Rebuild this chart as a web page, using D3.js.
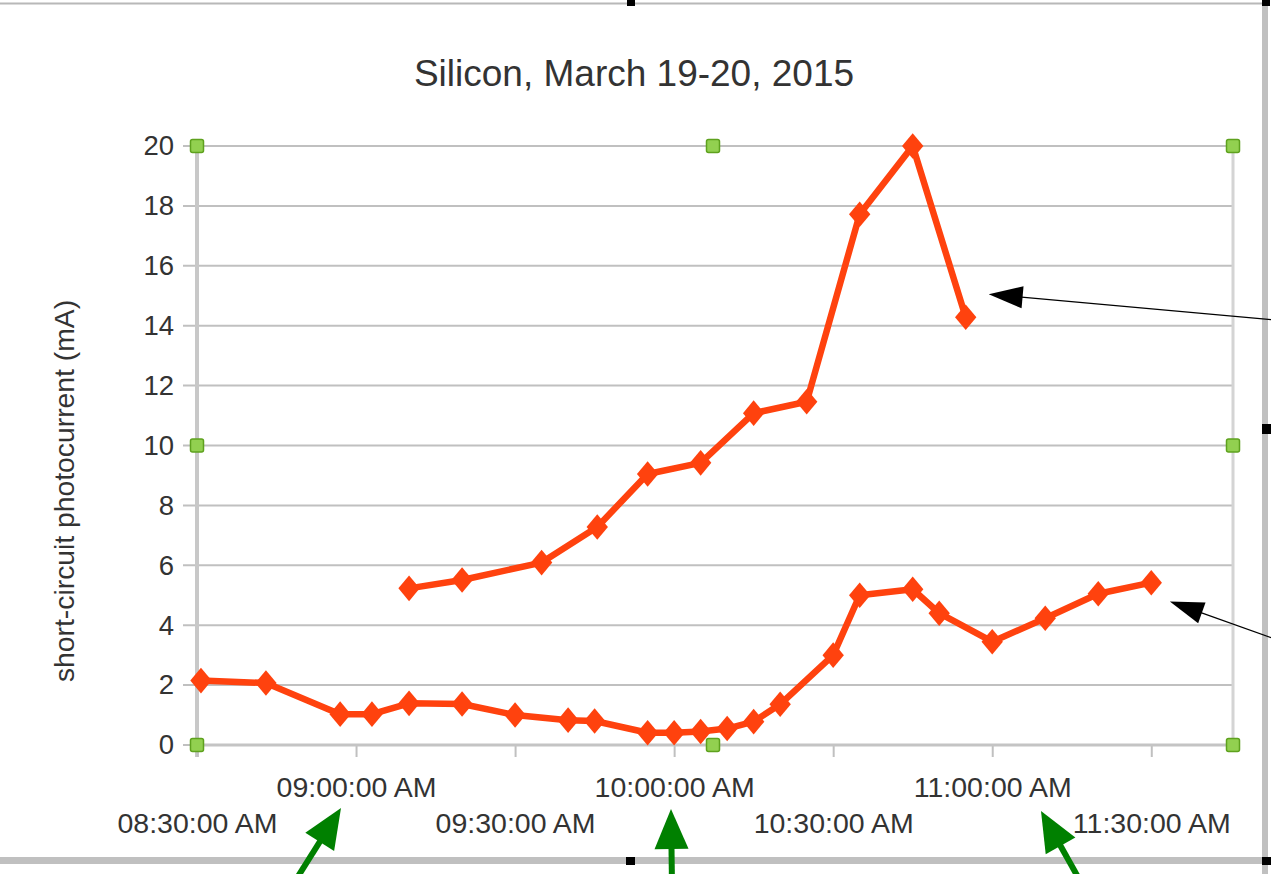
<!DOCTYPE html>
<html><head><meta charset="utf-8">
<script src="https://cdn.jsdelivr.net/npm/d3@7"></script>
<style>
body{margin:0;background:#fff;}
svg{display:block;font-family:"Liberation Sans",Arial,sans-serif;}
</style>
</head><body>
<svg id="chart" width="1271" height="874"></svg>
<script>
// ---------- data ----------
const chartTitle = "Silicon, March 19-20, 2015";
const yAxisTitle = "short-circuit photocurrent (mA)";

const lowerTimes  = ["08:30:45","08:43:00","08:57:00","09:03:00","09:10:00","09:20:00","09:30:00","09:40:00","09:45:00","09:55:00","10:00:00","10:05:00","10:10:00","10:15:00","10:20:00","10:30:00","10:35:00","10:45:00","10:50:00","11:00:00","11:10:00","11:20:00","11:30:00"];
const lowerValues = [2.15,2.07,1.03,1.03,1.39,1.37,1.0,0.83,0.8,0.41,0.41,0.45,0.55,0.78,1.36,3.0,5.0,5.2,4.4,3.45,4.23,5.05,5.42];

const upperTimes  = ["09:10:00","09:20:00","09:35:00","09:45:30","09:55:00","10:05:00","10:15:00","10:25:00","10:35:00","10:45:00","10:55:00"];
const upperValues = [5.23,5.51,6.09,7.28,9.05,9.42,11.08,11.46,17.72,20.0,14.28];

const yTickValues = [0,2,4,6,8,10,12,14,16,18,20];
const xTickTimes  = ["08:30:00","09:00:00","09:30:00","10:00:00","10:30:00","11:00:00","11:30:00"];
const xTickLabels = ["08:30:00 AM","09:00:00 AM","09:30:00 AM","10:00:00 AM","10:30:00 AM","11:00:00 AM","11:30:00 AM"];
const xDomainTimes = ["08:30:00","11:45:25"];
const yDomain = [0,20];

// arrow annotations (tips in data coordinates)
const blackArrowTips = [{t:"10:59:20", v:15.05}, {t:"11:33:30", v:4.79}];

// ---------- setup ----------
const parse = d3.timeParse("%H:%M:%S");
const svg = d3.select("#chart");
const W = 1271, H = 874;
const plot = {left:197, right:1233, top:146, bottom:745};

const x = d3.scaleTime().domain(xDomainTimes.map(parse)).range([plot.left, plot.right]);
const y = d3.scaleLinear().domain(yDomain).range([plot.bottom, plot.top]);

const textColor = "#333333";
const gridColor = "#c0c0c0";
const seriesColor = "#ff420e";

// frame (screenshot window borders)
svg.append("line").attr("x1",0).attr("x2",1262).attr("y1",3.5).attr("y2",3.5)
  .attr("stroke","#b8b8b8").attr("stroke-width",2);
svg.append("rect").attr("x",1262).attr("y",0).attr("width",6).attr("height",H).attr("fill","#c0c0c0");
svg.append("rect").attr("x",0).attr("y",857).attr("width",1262).attr("height",7).attr("fill","#c0c0c0");
[[627,0,8,6],[1262,424,9,10],[626,857,9,8],[1262,857,9,8],[1262,0,8,6]].forEach(r=>{
  svg.append("rect").attr("x",r[0]).attr("y",r[1]).attr("width",r[2]).attr("height",r[3]).attr("fill","#000");
});

// title
svg.append("text").attr("x",634).attr("y",86).attr("text-anchor","middle")
  .attr("font-size",37).attr("fill",textColor).text(chartTitle);

// y axis title
svg.append("text").attr("transform","translate(74,491) rotate(-90)")
  .attr("text-anchor","middle").attr("font-size",28.3).attr("fill",textColor).text(yAxisTitle);

// gridlines
svg.append("g").selectAll("line").data(yTickValues).join("line")
  .attr("x1",183).attr("x2",plot.right)
  .attr("y1",d=>y(d)).attr("y2",d=>y(d))
  .attr("stroke",gridColor).attr("stroke-width",2);

// right border of plot
svg.append("line").attr("x1",plot.right).attr("x2",plot.right).attr("y1",plot.top).attr("y2",plot.bottom)
  .attr("stroke","#d4d4d4").attr("stroke-width",3);

// y axis
const yAxis = svg.append("g").attr("transform",`translate(${plot.left},0)`)
  .call(d3.axisLeft(y).tickValues(yTickValues).tickSize(0).tickPadding(23).tickFormat(d3.format("d")));
yAxis.select(".domain").remove();
yAxis.selectAll("text").attr("font-size",27.5).attr("fill",textColor).attr("font-family","Liberation Sans, Arial, sans-serif");
svg.append("line").attr("x1",plot.left).attr("x2",plot.left).attr("y1",plot.top).attr("y2",plot.bottom+12)
  .attr("stroke","#c8c8c8").attr("stroke-width",4);

// x axis
const xAxis = svg.append("g").attr("transform",`translate(0,${plot.bottom})`)
  .call(d3.axisBottom(x).tickValues(xTickTimes.map(parse)).tickSize(12)
    .tickFormat((d,i)=>xTickLabels[i]));
xAxis.select(".domain").remove();
xAxis.selectAll(".tick line").attr("stroke",gridColor).attr("stroke-width",2);
xAxis.selectAll("text").attr("font-size",28.5).attr("fill",textColor)
  .attr("font-family","Liberation Sans, Arial, sans-serif")
  .attr("dy",0).attr("y",(d,i)=> i%2===0 ? 88 : 52);
svg.append("line").attr("x1",plot.left).attr("x2",plot.right).attr("y1",plot.bottom).attr("y2",plot.bottom)
  .attr("stroke","#c4c4c4").attr("stroke-width",3);

// series
const line = d3.line().x(d=>x(d.t)).y(d=>y(d.v));
const series = [
  lowerTimes.map((t,i)=>({t:parse(t), v:lowerValues[i]})),
  upperTimes.map((t,i)=>({t:parse(t), v:upperValues[i]}))
];
const diamond = d3.symbol().type(d3.symbolSquare).size(270);
series.forEach(s=>{
  svg.append("path").datum(s).attr("d",line).attr("fill","none")
    .attr("stroke",seriesColor).attr("stroke-width",6.5).attr("stroke-linejoin","round");
  svg.append("g").selectAll("path").data(s).join("path")
    .attr("d",diamond)
    .attr("transform",d=>`translate(${x(d.t)},${y(d.v)}) scale(0.92,1.1) rotate(45)`)
    .attr("fill",seriesColor);
});

// selection handles (green squares)
const midX = (plot.left+plot.right)/2 - 2, midY = y(10);
[[plot.left,plot.top],[midX,plot.top],[plot.right,plot.top],[plot.left,midY],[plot.right,midY],
 [plot.left,plot.bottom],[midX,plot.bottom],[plot.right,plot.bottom]].forEach(p=>{
  svg.append("rect").attr("x",p[0]-6.5).attr("y",p[1]-6.5).attr("width",13).attr("height",13)
    .attr("rx",2).attr("fill","#92d050").attr("stroke","#5ea11e").attr("stroke-width",1.5);
});

// arrow helper
function arrow(x1,y1,x2,y2,color,width,headLen,headHalf){
  const a = Math.atan2(y2-y1,x2-x1);
  const bx = x2 - headLen*Math.cos(a), by = y2 - headLen*Math.sin(a);
  svg.append("line").attr("x1",x1).attr("y1",y1).attr("x2",bx+Math.cos(a)).attr("y2",by+Math.sin(a))
    .attr("stroke",color).attr("stroke-width",width);
  const px = -Math.sin(a)*headHalf, py = Math.cos(a)*headHalf;
  svg.append("path").attr("d",`M${x2},${y2}L${bx+px},${by+py}L${bx-px},${by-py}Z`).attr("fill",color);
}
// black annotation arrows
arrow(1275,320, x(parse(blackArrowTips[0].t)), y(blackArrowTips[0].v), "#000",1.3,34,11);
arrow(1275,639, x(parse(blackArrowTips[1].t)), y(blackArrowTips[1].v), "#000",1.3,34,11);
// green arrows
arrow(292,886,341,808,"#008000",6,40,17);
arrow(672,886,671,809,"#008000",6,40,17);
arrow(1083,886,1041,811,"#008000",6,40,17);
</script>
</body></html>
